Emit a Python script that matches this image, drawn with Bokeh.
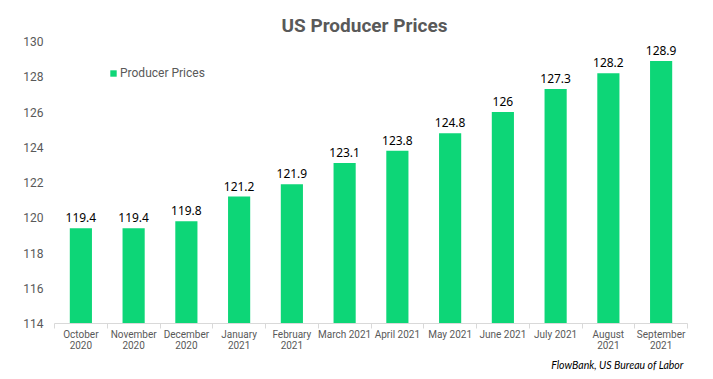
from bokeh.plotting import figure
from bokeh.models import ColumnDataSource, Range1d, FixedTicker, Title, Legend, LegendItem, LabelSet
from bokeh.core.properties import value
from bokeh.embed import file_html
from bokeh.resources import INLINE

months = ["October\n2020", "November\n2020", "December\n2020", "January\n2021", "February\n2021",
          "March 2021", "April 2021", "May 2021", "June 2021", "July 2021", "August\n2021", "September\n2021"]
values = [119.4, 119.4, 119.8, 121.2, 121.9, 123.1, 123.8, 124.8, 126.0, 127.3, 128.2, 128.9]
value_labels = ["119.4", "119.4", "119.8", "121.2", "121.9", "123.1", "123.8", "124.8", "126", "127.3", "128.2", "128.9"]
y_ticks = [114, 116, 118, 120, 122, 124, 126, 128, 130]

xs = list(range(len(months)))
src = ColumnDataSource(dict(x=xs, top=values, lab=value_labels))

GREEN = "#0dd677"
GRAY = "#595959"

p = figure(width=713, height=379, output_backend="svg", toolbar_location=None,
           x_range=Range1d(-0.5, len(months) - 0.5), y_range=Range1d(114, 130),
           min_border_left=54, min_border_right=26, min_border_top=41, min_border_bottom=56)
p.outline_line_color = None
p.xgrid.visible = False
p.ygrid.visible = False

r = p.vbar(x="x", top="top", bottom=114, width=0.42, source=src, fill_color=GREEN, line_color=None)

p.add_layout(LabelSet(x="x", y="top", text="lab", source=src, text_align="center",
                      text_baseline="bottom", y_offset=6, text_font=value("Noto Sans"),
                      text_font_size=value("12px"), text_color="#000000"))

p.xaxis.ticker = FixedTicker(ticks=xs, minor_ticks=[i - 0.5 for i in range(len(months) + 1)])
p.xaxis.major_label_overrides = {i: m for i, m in enumerate(months)}
p.xaxis.major_tick_line_color = None
p.xaxis.major_tick_out = 0
p.xaxis.major_tick_in = 0
p.xaxis.minor_tick_line_color = "#d9d9d9"
p.xaxis.minor_tick_out = 5
p.xaxis.minor_tick_in = 0
p.xaxis.axis_line_color = "#d9d9d9"
p.xaxis.major_label_text_font = "Roboto"
p.xaxis.major_label_text_font_size = "10px"
p.xaxis.major_label_text_line_height = 1.0
p.xaxis.major_label_text_color = GRAY
p.xaxis.major_label_standoff = 0

p.yaxis.ticker = FixedTicker(ticks=y_ticks)
p.yaxis.axis_line_color = None
p.yaxis.major_tick_line_color = None
p.yaxis.major_tick_out = 0
p.yaxis.major_tick_in = 0
p.yaxis.minor_tick_line_color = None
p.yaxis.major_label_text_font = "Roboto"
p.yaxis.major_label_text_font_size = "12px"
p.yaxis.major_label_text_color = GRAY
p.yaxis.major_label_standoff = 11

title = Title(text="US Producer Prices", align="left", text_font="Roboto", text_font_size="19px",
              text_font_style="bold", text_color=GRAY, offset=227)
p.add_layout(title, "above")

source_note = Title(text="FlowBank, US Bureau of Labor", align="right", text_font="Lato",
                    text_font_style="italic", text_font_size="10.5px", text_color="#000000",
                    standoff=6, offset=4)
p.add_layout(source_note, "below")

legend = Legend(items=[LegendItem(label="Producer Prices", renderers=[r])], location=(55, 243),
                padding=0, margin=0, glyph_width=8, glyph_height=8, label_standoff=3,
                label_text_font="Roboto", label_text_font_size="12px", label_text_color=GRAY,
                border_line_color=None, background_fill_color=None, label_height=14)
p.add_layout(legend, "center")

open("out.html", "w").write(file_html(p, INLINE))
